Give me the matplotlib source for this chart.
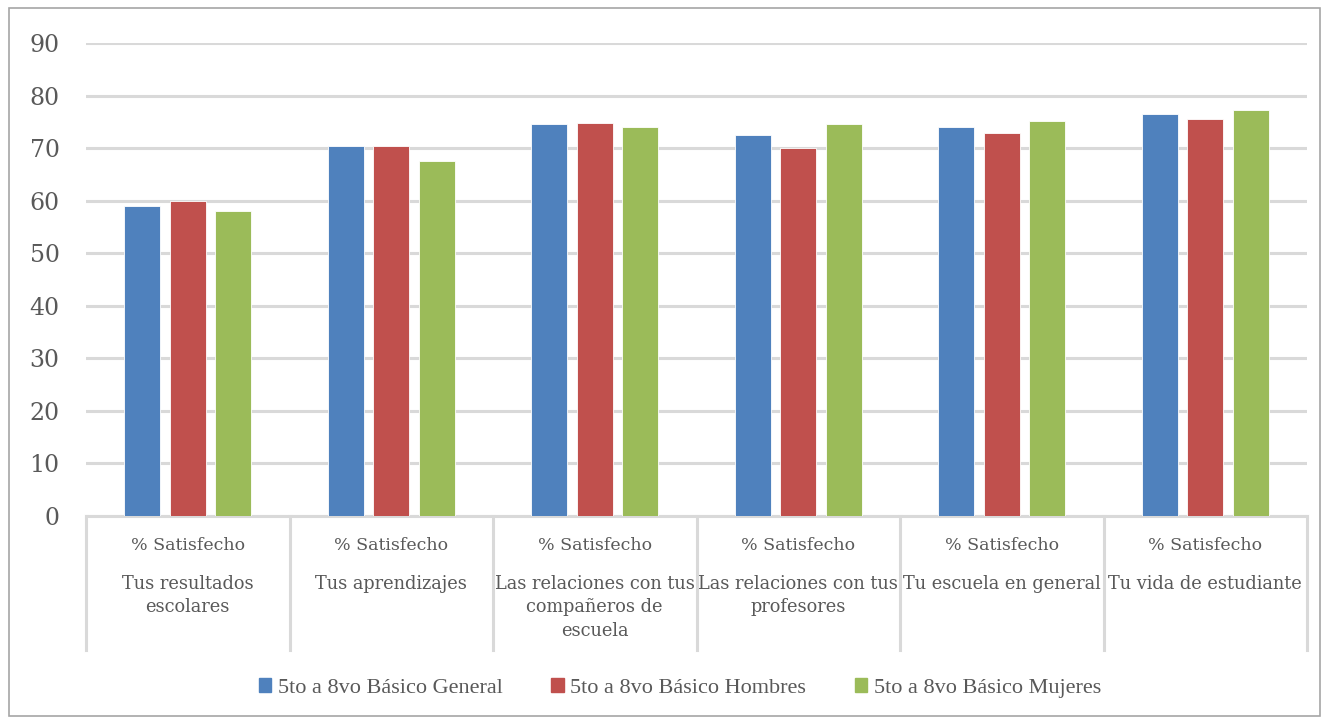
import matplotlib
matplotlib.use("Agg")
import matplotlib.pyplot as plt
import matplotlib.transforms as mtransforms
from matplotlib.patches import Patch, Rectangle
import numpy as np

categories = [
    "Tus resultados\nescolares",
    "Tus aprendizajes",
    "Las relaciones con tus\ncompañeros de\nescuela",
    "Las relaciones con tus\nprofesores",
    "Tu escuela en general",
    "Tu vida de estudiante",
]
top_label = "% Satisfecho"
series_names = [
    "5to a 8vo Básico General",
    "5to a 8vo Básico Hombres",
    "5to a 8vo Básico Mujeres",
]
general = [59.0, 70.4, 74.5, 72.4, 74.0, 76.5]
hombres = [59.9, 70.4, 74.8, 70.0, 72.8, 75.6]
mujeres = [58.0, 67.5, 74.1, 74.6, 75.2, 77.3]
yticks = [0, 10, 20, 30, 40, 50, 60, 70, 80, 90]

colors = ["#4F81BD", "#C0504D", "#9BBB59"]
text_color = "#595959"
grid_color = "#D9D9D9"
serif = ["DejaVu Serif"]
legend_font = ["Liberation Serif", "DejaVu Serif"]

W, H = 1329, 721
fig = plt.figure(figsize=(W / 100, H / 100), dpi=100)
ax = fig.add_axes([86 / W, 1 - 516 / H, (1307 - 86) / W, (516 - 43) / H])

x = np.arange(len(categories))
bw = 0.177
step = 0.224
for k, (vals, c) in enumerate(zip([general, hombres, mujeres], colors)):
    ax.bar(x + (k - 1) * step, vals, width=bw, color=c, zorder=3,
           edgecolor="white", linewidth=0.6)

ax.set_xlim(-0.5, len(categories) - 0.5)
ax.set_ylim(0, 90)
ax.set_yticks(yticks)
ax.set_yticklabels([str(v) for v in yticks], fontsize=17, color=text_color,
                   family=serif)
ax.tick_params(axis="y", length=0, pad=19)
ax.set_xticks([])
ax.yaxis.grid(True, color=grid_color, linewidth=2.2, zorder=0)
for s in ["top", "right", "left"]:
    ax.spines[s].set_visible(False)
ax.spines["bottom"].set_color(grid_color)
ax.spines["bottom"].set_linewidth(2.2)

trans = mtransforms.blended_transform_factory(ax.transData, ax.transAxes)
ax_h = 516 - 43
for b in np.arange(-0.5, len(categories), 1.0):
    ax.plot([b, b], [0, -(650 - 516) / ax_h], transform=trans, color=grid_color,
            linewidth=2.2, clip_on=False, zorder=1)

for i, cat in enumerate(categories):
    ax.text(i, -(545 - 516) / ax_h, top_label, transform=trans, ha="center",
            va="center", fontsize=12.5, color=text_color, family=serif)
    ax.text(i, -(575 - 516) / ax_h, cat, transform=trans, ha="center",
            va="top", fontsize=12.8, color=text_color, family=serif,
            linespacing=1.38)

handles = [Patch(facecolor=c, edgecolor=c) for c in colors]
leg = fig.legend(handles, series_names, loc="center", ncol=3,
                 bbox_to_anchor=(680 / W, 1 - 688 / H), frameon=False,
                 prop={"family": legend_font, "size": 16}, handlelength=0.55,
                 handleheight=0.55, handletextpad=0.3, columnspacing=2.2)
for t in leg.get_texts():
    t.set_color(text_color)

fig.patches.append(Rectangle((9 / W, 1 - 716 / H), (1320 - 9) / W, (716 - 8) / H,
                             transform=fig.transFigure, fill=False,
                             edgecolor="#A6A6A6", linewidth=1.2))

fig.savefig("out.png", dpi=100, facecolor="white")
